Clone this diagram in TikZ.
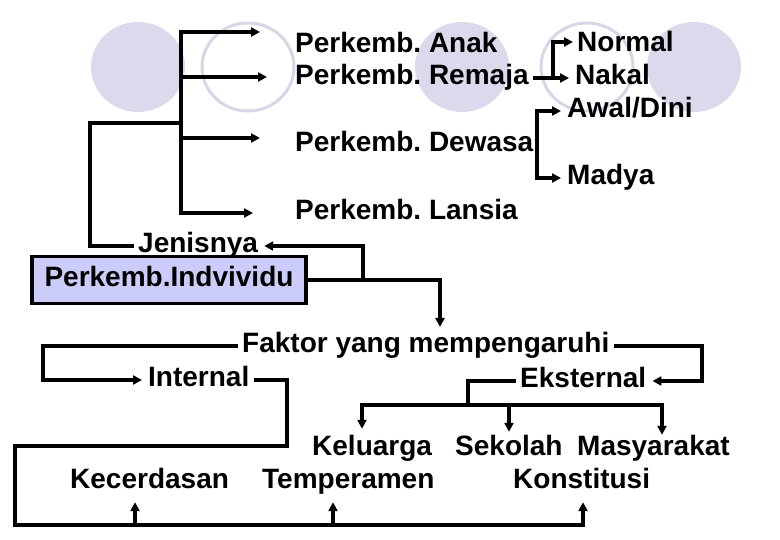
\documentclass[tikz,border=0pt]{standalone}
\usepackage{fontspec}
\setmainfont{Liberation Sans}
\usetikzlibrary{arrows.meta}
\frenchspacing
\definecolor{bgcirc}{RGB}{218,218,236}
\definecolor{ringcol}{RGB}{214,214,230}
\definecolor{boxcol}{RGB}{204,204,250}
\tikzset{
  lbl/.style={anchor=base west, inner xsep=6pt, inner ysep=0pt, text height=20pt, text depth=6pt,
    font=\bfseries\fontsize{28}{30}\selectfont},
  boxed/.style={draw, line width=3.5pt, fill=boxcol, minimum width=274pt, minimum height=47pt,
    inner sep=0pt, text height=20pt, text depth=6pt, font=\bfseries\fontsize{28}{30}\selectfont},
  seg/.style={line width=3.5pt, line cap=rect},
  conn/.style={seg, -{Triangle[length=9pt,width=9pt]}}
}
\begin{document}
\begin{tikzpicture}[x=1pt,y=-1pt]
  \useasboundingbox (0,0) rectangle (780,540);
  % background circles
  \fill[bgcirc] (138,67) ellipse (47 and 45); \fill[bgcirc] (462,67) ellipse (47 and 45); \fill[bgcirc] (694,67) ellipse (47 and 45);
  \draw[ringcol, line width=3pt] (248,67) ellipse (46 and 44); \draw[ringcol, line width=3pt] (587,67) ellipse (46 and 44);

  % jenis perkembangan
  \node[lbl] (anak) at (289,53) {Perkemb. Anak}; \node[lbl] (remaja) at (289,85) {Perkemb. Remaja};
  \node[lbl] (dewasa) at (289,152) {Perkemb. Dewasa}; \node[lbl] (lansia) at (289,220) {Perkemb. Lansia};
  \node[lbl] (normal) at (571,52) {Normal}; \node[lbl] (nakal) at (569,85) {Nakal};
  \node[lbl] (awal) at (561,118) {Awal/Dini}; \node[lbl] (madya) at (561,185) {Madya};
  \node[lbl] (jenis) at (132,253) {Jenisnya};
  \node[boxed] (indiv) at (169,280) {Perkemb.Indvividu};

  \coordinate (tA) at (260,32); \coordinate (tB) at (267,77); \coordinate (tC) at (260,138); \coordinate (tD) at (253,213);
  \coordinate (trunk) at (181,123); \coordinate (jl) at (90,123);
  \draw[conn] (trunk) |- (tA); \draw[conn] (trunk) |- (tB);
  \draw[conn] (trunk) |- (tC); \draw[conn] (trunk) |- (tD);
  \draw[seg] (jenis.west) -| (jl) -- (trunk);

  \draw[conn] (remaja.east) -- (nakal.west);
  \coordinate (rn) at (553,78); \coordinate (nt) at (573,42);
  \draw[conn] (rn) |- (nt);
  \coordinate (dw) at (537,145);
  \draw[conn] (dw) |- (awal.west); \draw[conn] (dw) |- (madya.west);

  % faktor
  \node[lbl] (faktor) at (236,353) {Faktor yang mempengaruhi};
  \node[lbl] (internal) at (142,387) {Internal}; \node[lbl] (eksternal) at (514,388) {Eksternal};
  \node[lbl] (keluarga) at (306,455) {Keluarga}; \node[lbl] (sekolah) at (449,455) {Sekolah};
  \node[lbl] (masyarakat) at (571,455) {Masyarakat};
  \node[lbl] (kecerdasan) at (64,488) {Kecerdasan}; \node[lbl] (temperamen) at (256,488) {Temperamen};
  \node[lbl] (konstitusi) at (507,488) {Konstitusi};

  \coordinate (fk) at (440,327); \coordinate (ij) at (363,280);
  \draw[conn] (indiv.east) -| (fk);
  \draw[conn] (ij) |- (jenis.east);

  \coordinate (fL) at (43,380); \coordinate (fR) at (702,381);
  \draw[conn] (faktor.west) -| (fL) -- (internal.west);
  \draw[conn] (faktor.east) -| (fR) -- (eksternal.east);

  \coordinate (eb) at (468,405); \coordinate (eK) at (362,405); \coordinate (eS) at (509,405); \coordinate (eM) at (662,405);
  \draw[seg] (eksternal.west) -| (eb); \draw[seg] (eK) -- (eM);
  \draw[conn, shorten >=6pt] (eK) -- (eK |- keluarga.north);
  \draw[conn, shorten >=3pt] (eS) -- (eS |- sekolah.north);
  \draw[conn] (eM) -- (eM |- masyarakat.north);

  \coordinate (i1) at (287,446); \coordinate (i2) at (15,525);
  \coordinate (kA) at (135,525); \coordinate (kT) at (333,525); \coordinate (kB) at (583,525);
  \draw[conn, shorten >=8pt] (internal.east) -| (i1) -| (i2) -| (kB |- konstitusi.south);
  \draw[conn, shorten >=8pt] (kA) -- (kA |- kecerdasan.south);
  \draw[conn, shorten >=8pt] (kT) -- (kT |- temperamen.south);
\end{tikzpicture}
\end{document}
